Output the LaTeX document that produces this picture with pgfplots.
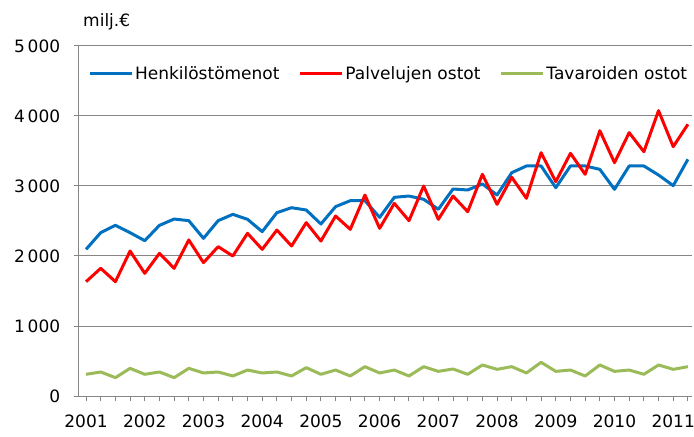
\documentclass[border=0pt]{standalone}
\usepackage{pgfplots}
\pgfplotsset{compat=1.18}
\usepackage{fontspec}
\setmainfont{DejaVu Sans}
\definecolor{cblue}{RGB}{0,112,192}
\definecolor{cred}{RGB}{255,0,0}
\definecolor{cgreen}{RGB}{155,187,89}
\definecolor{cgrid}{RGB}{134,134,134}
\begin{document}
\begin{tikzpicture}[font=\fontsize{17bp}{20bp}\selectfont]
\begin{axis}[
  name=ax,
  scale only axis,
  width=613.6bp, height=350bp,
  xmin=-0.5, xmax=41.3,
  ymin=0, ymax=5000,
  axis x line*=bottom, axis y line*=left,
  axis line style={cgrid, line width=1bp, -},
  xtick={0,4,...,40},
  xticklabels={2001,2002,2003,2004,2005,2006,2007,2008,2009,2010,2011},
  minor xtick={0,...,41},
  ytick={0,1000,...,5000},
  yticklabels={0,1\,000,2\,000,3\,000,4\,000,5\,000},
  tick align=outside,
  major tick length=5bp, minor tick length=5bp,
  tick style={cgrid, line width=1bp},
  ymajorgrids,
  grid style={cgrid, line width=1bp},
  yticklabel style={xshift=-10bp},
  xticklabel style={yshift=-10bp},
  legend columns=3,
  legend style={draw=none, fill=none, inner sep=0pt, outer sep=0pt,
    at={(0.0152,0.92)}, anchor=west,
    /tikz/every even column/.append style={column sep=17bp}},
  legend image code/.code={\draw[#1] (0bp,0bp) -- (42bp,0bp);},
  every axis plot/.append style={line width=3bp, line join=round},
  clip=false,
]
\addplot[cblue] coordinates {
(0,2095)(1,2333)(2,2438)(3,2333)(4,2219)(5,2438)(6,2528)(7,2505)
(8,2252)(9,2505)(10,2595)(11,2524)(12,2348)(13,2619)(14,2690)(15,2657)
(16,2457)(17,2705)(18,2790)(19,2790)(20,2552)(21,2838)(22,2857)(23,2810)
(24,2667)(25,2957)(26,2943)(27,3029)(28,2871)(29,3190)(30,3286)(31,3286)
(32,2976)(33,3286)(34,3286)(35,3238)(36,2952)(37,3286)(38,3286)(39,3157)
(40,3005)(41,3381)};
\addlegendentry{Henkilöstömenot}
\addplot[cred] coordinates {
(0,1633)(1,1824)(2,1633)(3,2071)(4,1752)(5,2038)(6,1824)(7,2229)
(8,1905)(9,2133)(10,2000)(11,2324)(12,2095)(13,2371)(14,2143)(15,2476)
(16,2214)(17,2571)(18,2381)(19,2871)(20,2395)(21,2752)(22,2505)(23,3000)
(24,2524)(25,2857)(26,2633)(27,3167)(28,2738)(29,3124)(30,2824)(31,3476)
(32,3062)(33,3467)(34,3167)(35,3790)(36,3333)(37,3762)(38,3490)(39,4076)
(40,3562)(41,3881)};
\addlegendentry{Palvelujen ostot}
\addplot[cgreen] coordinates {
(0,310)(1,343)(2,262)(3,395)(4,310)(5,343)(6,262)(7,395)
(8,329)(9,343)(10,286)(11,371)(12,329)(13,343)(14,286)(15,405)
(16,310)(17,371)(18,286)(19,419)(20,329)(21,371)(22,286)(23,419)
(24,352)(25,386)(26,310)(27,443)(28,381)(29,419)(30,329)(31,481)
(32,352)(33,371)(34,286)(35,443)(36,352)(37,371)(38,310)(39,443)
(40,381)(41,419)};
\addlegendentry{Tavaroiden ostot}
\node[anchor=west] at (rel axis cs:0,1) [xshift=1bp, yshift=24bp] {milj.€};
\end{axis}
\pgfresetboundingbox
\path ([shift={(-78.7bp,-41bp)}]ax.south west) rectangle ([shift={(1.7bp,46bp)}]ax.north east);
\end{tikzpicture}
\end{document}
